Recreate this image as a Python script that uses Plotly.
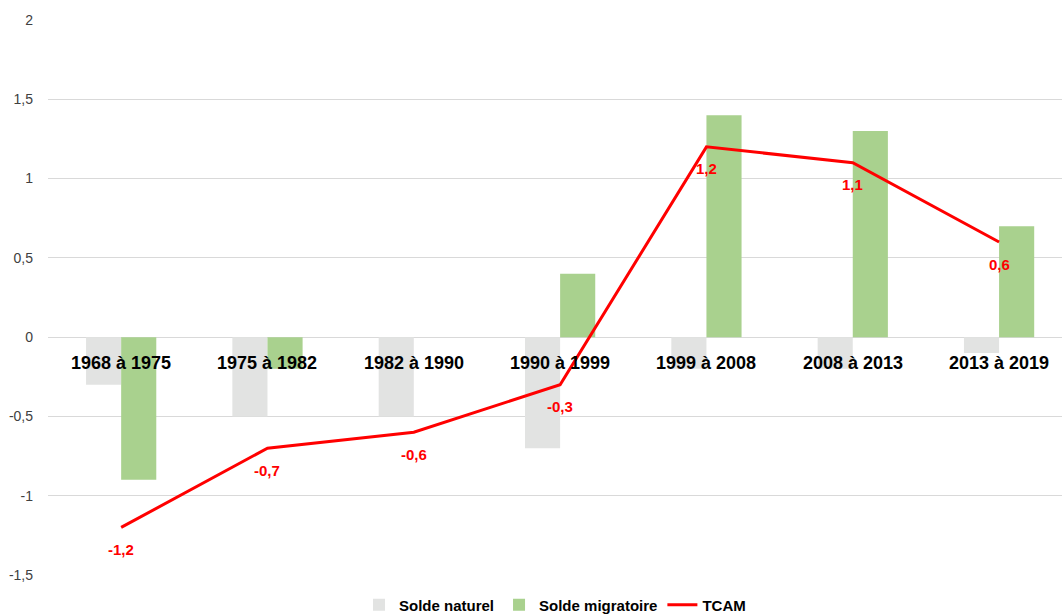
import plotly.graph_objects as go

categories = ["1968 à 1975", "1975 à 1982", "1982 à 1990", "1990 à 1999",
              "1999 à 2008", "2008 à 2013", "2013 à 2019"]
solde_naturel = [-0.3, -0.5, -0.5, -0.7, -0.2, -0.2, -0.1]
solde_migratoire = [-0.9, -0.2, 0.0, 0.4, 1.4, 1.3, 0.7]
tcam = [-1.2, -0.7, -0.6, -0.3, 1.2, 1.1, 0.6]
y_tickvals = [-1.5, -1, -0.5, 0, 0.5, 1, 1.5, 2]
y_ticktext = ["-1,5", "-1", "-0,5", "0", "0,5", "1", "1,5", "2"]

FONT = "Liberation Sans"

fig = go.Figure()
fig.add_trace(go.Bar(x=categories, y=solde_naturel, name="Solde naturel",
                     marker=dict(color="#E2E3E2", line=dict(width=0)), hoverinfo="skip"))
fig.add_trace(go.Bar(x=categories, y=solde_migratoire, name="Solde migratoire",
                     marker=dict(color="#A9D18E", line=dict(width=0)), hoverinfo="skip"))
fig.add_trace(go.Scatter(x=categories, y=tcam, name="TCAM", mode="lines",
                         line=dict(color="#FF0000", width=3), hoverinfo="skip"))

for c in categories:
    fig.add_annotation(x=c, y=0, xref="x", yref="y", text=f"<b>{c}</b>",
                       showarrow=False, yanchor="middle", yshift=-26,
                       font=dict(family=FONT, size=18, color="#000000"))

for c, v in zip(categories, tcam):
    fig.add_annotation(x=c, y=v, xref="x", yref="y",
                       text="<b>" + f"{v:.1f}".replace(".", ",") + "</b>",
                       showarrow=False, yanchor="middle", yshift=-22,
                       font=dict(family=FONT, size=15, color="#FF0000"))

fig.update_layout(
    width=1062, height=614,
    margin=dict(l=48, r=0, t=20, b=39, autoexpand=False),
    paper_bgcolor="white", plot_bgcolor="white",
    barmode="group", bargap=0.52, bargroupgap=0,
    font=dict(family=FONT),
    showlegend=True,
    legend=dict(orientation="h", x=0.5, xanchor="center", y=-0.054, yanchor="middle",
                font=dict(family=FONT, size=15, color="#000000", weight="bold"),
                itemwidth=30, traceorder="normal"),
    xaxis=dict(range=[-0.5, 6.43], showticklabels=False, showgrid=False,
               zeroline=False, showline=False, ticks=""),
    yaxis=dict(range=[-1.5, 2], tickvals=y_tickvals, ticktext=y_ticktext,
               showgrid=True, gridcolor="#D9D9D9", gridwidth=1, zeroline=False,
               showline=False, ticks="", ticklabelstandoff=14,
               tickfont=dict(family=FONT, size=14, color="#404040")),
)

fig.write_html("out.html")
